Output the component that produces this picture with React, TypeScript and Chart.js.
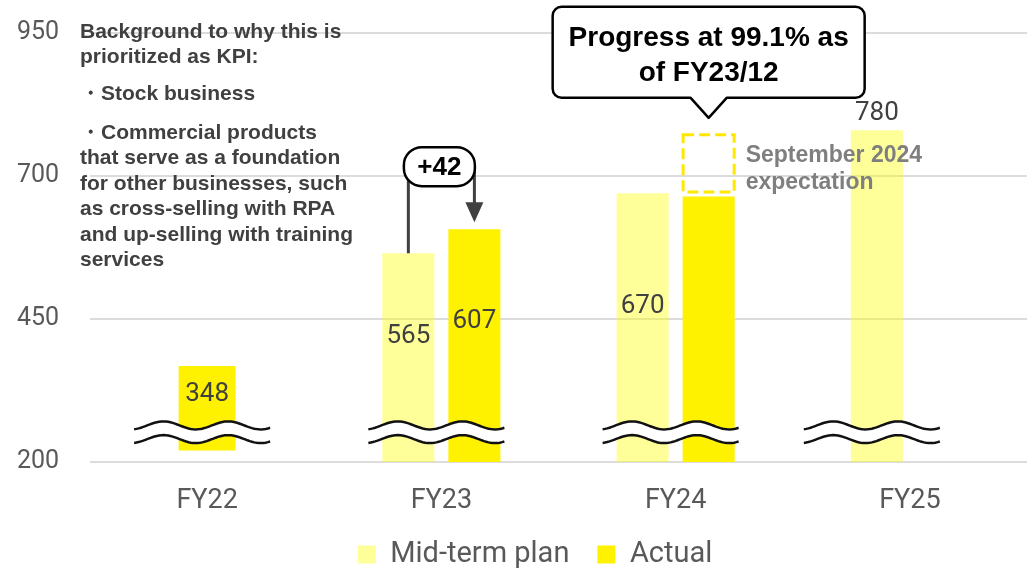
import { useEffect, useRef } from 'react';
import { Chart, registerables } from 'chart.js';

Chart.register(...registerables);

// ---- data ----
const categories = ['FY22', 'FY23', 'FY24', 'FY25'];
const midTermPlan: (number | null)[] = [null, 565, 670, 780];
const actual: (number | null)[] = [348, 607, 664, null];
// which actual values carry a printed label (FY24 is described by the callout instead)
const actualLabelShown = [true, true, false, false];
// FY22 actual bar as it is drawn across the broken axis (data units)
const fy22BrokenRange: [number, number] = [220, 368];
// September 2024 expectation range for FY24 (data units)
const expectationRange: [number, number] = [672, 772];
const yTicks = [200, 450, 700, 950];
// axis-break waves (data units)
const breakValues = [264, 240];

const kpiNoteLines = [
  'Background to why this is',
  'prioritized as KPI:',
  '・Stock business',
  '・Commercial products',
  'that serve as a foundation',
  'for other businesses, such',
  'as cross-selling with RPA',
  'and up-selling with training',
  'services',
];
const kpiNoteLineY = [32, 57, 94, 133, 158.5, 184, 209.5, 235, 260.5];
const calloutLines = ['Progress at 99.1% as', 'of FY23/12'];
const expectationLines = ['September 2024', 'expectation'];

const PLAN_COLOR = 'rgba(255,255,0,0.4)';
const ACTUAL_COLOR = '#FFF200';
const AXIS_TEXT = '#595959';
const LABEL_TEXT = '#404040';

const legendShiftPlugin = {
  id: 'legendShift',
  afterLayout(chart: any) {
    const lg = chart.legend;
    if (lg) {
      lg.left += 13;
      lg.right += 13;
    }
  },
};

const overlayPlugin = {
  id: 'overlay',
  afterDatasetsDraw(chart: any) {
    const ctx: CanvasRenderingContext2D = chart.ctx;
    const ys = chart.scales.y;
    const area = chart.chartArea;
    const planMeta = chart.getDatasetMeta(0);
    const actMeta = chart.getDatasetMeta(1);
    const fy22Meta = chart.getDatasetMeta(2);
    const datasets = chart.data.datasets;

    const waveTopY = ys.getPixelForValue(breakValues[0]);
    const waveBotY = ys.getPixelForValue(breakValues[1]);

    // ---- axis-break waves ----
    categories.forEach((_, i) => {
      const els: any[] = [];
      [planMeta, actMeta, fy22Meta].forEach((m, di) => {
        const v = datasets[di].data[i];
        if (v !== null && v !== undefined) els.push(m.data[i]);
      });
      if (!els.length) return;
      const left = Math.min(...els.map((e) => e.x - e.width / 2));
      const right = Math.max(...els.map((e) => e.x + e.width / 2));
      const cx = (left + right) / 2 - 5;
      const x0 = cx - 68;
      const x1 = cx + 68;
      const N = 60;
      const pts = (yc: number) => {
        const p: [number, number][] = [];
        for (let k = 0; k <= N; k++) {
          const t = k / N;
          p.push([x0 + t * (x1 - x0), yc + 4 * Math.cos(2 * Math.PI * 2.1 * t + 0.3)]);
        }
        return p;
      };
      const top = pts(waveTopY);
      const bot = pts(waveBotY);
      ctx.save();
      ctx.beginPath();
      top.forEach(([x, y], k) => (k ? ctx.lineTo(x, y) : ctx.moveTo(x, y)));
      for (let k = bot.length - 1; k >= 0; k--) ctx.lineTo(bot[k][0], bot[k][1]);
      ctx.closePath();
      ctx.fillStyle = '#ffffff';
      ctx.fill();
      ctx.strokeStyle = '#111111';
      ctx.lineWidth = 2.5;
      [top, bot].forEach((w) => {
        ctx.beginPath();
        w.forEach(([x, y], k) => (k ? ctx.lineTo(x, y) : ctx.moveTo(x, y)));
        ctx.stroke();
      });
      ctx.restore();
    });

    // ---- value labels ----
    ctx.save();
    ctx.font = '26px Roboto, "Noto Sans", sans-serif';
    ctx.fillStyle = LABEL_TEXT;
    ctx.textAlign = 'center';
    ctx.textBaseline = 'middle';
    const last = categories.length - 1;
    midTermPlan.forEach((v, i) => {
      if (v === null) return;
      const el = planMeta.data[i];
      const y = i === last ? el.y - 17 : (el.y + waveTopY) / 2 - 3;
      ctx.fillText(String(v), el.x, y);
    });
    actual.forEach((v, i) => {
      if (v === null || !actualLabelShown[i]) return;
      const el = i === 0 ? fy22Meta.data[i] : actMeta.data[i];
      ctx.fillText(String(v), el.x, (el.y + waveTopY) / 2 - (i === 0 ? 1 : 6));
    });
    ctx.restore();

    // ---- expectation dashed box + text ----
    const fy24 = actMeta.data[2];
    const eTop = ys.getPixelForValue(expectationRange[1]);
    const eBot = ys.getPixelForValue(expectationRange[0]);
    ctx.save();
    ctx.strokeStyle = '#FFE800';
    ctx.lineWidth = 3;
    ctx.setLineDash([11, 5]);
    ctx.strokeRect(fy24.x - fy24.width / 2 + 0.5, eTop, fy24.width - 1, eBot - eTop);
    ctx.setLineDash([]);
    ctx.font = 'bold 23px "Liberation Sans", Arial, sans-serif';
    ctx.fillStyle = '#7f7f7f';
    ctx.textAlign = 'left';
    ctx.textBaseline = 'middle';
    ctx.fillText(expectationLines[0], fy24.x + fy24.width / 2 + 11, eTop + 21);
    ctx.fillText(expectationLines[1], fy24.x + fy24.width / 2 + 11, eTop + 48);
    ctx.restore();

    // ---- speech-bubble callout ----
    const tipX = fy24.x;
    const tipY = eTop - 17;
    const bB = tipY - 20;
    const bT = bB - 91;
    const bL = tipX - 156;
    const bR = tipX + 156;
    const r = 9;
    ctx.save();
    ctx.beginPath();
    ctx.moveTo(bL + r, bT);
    ctx.lineTo(bR - r, bT);
    ctx.arcTo(bR, bT, bR, bT + r, r);
    ctx.lineTo(bR, bB - r);
    ctx.arcTo(bR, bB, bR - r, bB, r);
    ctx.lineTo(tipX + 18, bB);
    ctx.lineTo(tipX, tipY);
    ctx.lineTo(tipX - 18, bB);
    ctx.lineTo(bL + r, bB);
    ctx.arcTo(bL, bB, bL, bB - r, r);
    ctx.lineTo(bL, bT + r);
    ctx.arcTo(bL, bT, bL + r, bT, r);
    ctx.closePath();
    ctx.fillStyle = '#ffffff';
    ctx.fill();
    ctx.lineWidth = 2.5;
    ctx.lineJoin = 'round';
    ctx.strokeStyle = '#000000';
    ctx.stroke();
    ctx.font = 'bold 28px "Liberation Sans", Arial, sans-serif';
    ctx.fillStyle = '#000000';
    ctx.textAlign = 'center';
    ctx.textBaseline = 'middle';
    ctx.fillText(calloutLines[0], tipX, bT + 31);
    ctx.fillText(calloutLines[1], tipX, bT + 66);
    ctx.restore();

    // ---- +42 difference annotation ----
    const pEl = planMeta.data[1];
    const aEl = actMeta.data[1];
    const diff = (actual[1] as number) - (midTermPlan[1] as number);
    const pcx = (pEl.x + aEl.x) / 2 - 2;
    const pcy = aEl.y - 62.5;
    ctx.save();
    ctx.strokeStyle = '#404040';
    ctx.fillStyle = '#404040';
    ctx.lineWidth = 3;
    ctx.beginPath();
    ctx.moveTo(pEl.x, pcy);
    ctx.lineTo(pEl.x, pEl.y);
    ctx.moveTo(aEl.x, pcy);
    ctx.lineTo(aEl.x, aEl.y - 25);
    ctx.stroke();
    ctx.beginPath();
    ctx.moveTo(aEl.x - 9, aEl.y - 27);
    ctx.lineTo(aEl.x + 9, aEl.y - 27);
    ctx.lineTo(aEl.x, aEl.y - 7);
    ctx.closePath();
    ctx.fill();
    ctx.beginPath();
    (ctx as any).roundRect(pcx - 35.5, pcy - 19.5, 71, 39, 18);
    ctx.fillStyle = '#ffffff';
    ctx.fill();
    ctx.lineWidth = 2.5;
    ctx.strokeStyle = '#000000';
    ctx.stroke();
    ctx.font = 'bold 26px "Liberation Sans", Arial, sans-serif';
    ctx.fillStyle = '#000000';
    ctx.textAlign = 'center';
    ctx.textBaseline = 'middle';
    ctx.fillText((diff >= 0 ? '+' : '') + diff, pcx, pcy + 1);
    ctx.restore();

    // ---- KPI background note ----
    ctx.save();
    ctx.font = 'bold 21px "Liberation Sans", Arial, sans-serif';
    ctx.fillStyle = '#404040';
    ctx.textAlign = 'left';
    ctx.textBaseline = 'middle';
    kpiNoteLines.forEach((line, k) => {
      ctx.fillText(line, area.left - 10, area.top + (kpiNoteLineY[k] - 33));
    });
    ctx.restore();
  },
};

export default function App() {
  const ref = useRef<HTMLCanvasElement>(null);

  useEffect(() => {
    const canvas = ref.current!;
    const chart = new Chart(canvas, {
      type: 'bar',
      data: {
        labels: categories,
        datasets: [
          {
            label: 'Mid-term plan',
            data: midTermPlan,
            backgroundColor: PLAN_COLOR,
            borderWidth: 0,
            categoryPercentage: 0.564,
            barPercentage: 0.788,
          },
          {
            label: 'Actual',
            data: actual.map((v, i) => (i === 0 ? null : v)),
            backgroundColor: ACTUAL_COLOR,
            borderWidth: 0,
            categoryPercentage: 0.564,
            barPercentage: 0.788,
          },
          {
            label: 'Actual FY22',
            data: categories.map((_, i) => (i === 0 ? fy22BrokenRange : null)) as any,
            backgroundColor: ACTUAL_COLOR,
            borderWidth: 0,
            grouped: false,
            barPercentage: 1,
            maxBarThickness: 57,
          } as any,
        ],
      },
      options: {
        responsive: false,
        animation: false,
        devicePixelRatio: 1,
        layout: { padding: { top: 33, left: 17, right: 4, bottom: 0 } },
        plugins: {
          tooltip: { enabled: false },
          legend: {
            position: 'bottom',
            labels: {
              filter: (item: any) => item.datasetIndex < 2,
              boxWidth: 18,
              boxHeight: 18,
              padding: 28,
              color: AXIS_TEXT,
              font: { family: 'Roboto, "Noto Sans", sans-serif', size: 29 },
            },
          },
        },
        scales: {
          x: {
            grid: { display: false },
            border: { display: false },
            ticks: {
              color: AXIS_TEXT,
              padding: 15,
              font: { family: 'Roboto, "Noto Sans", sans-serif', size: 27 },
            },
            afterFit: (s: any) => {
              s.height = 50;
            },
          },
          y: {
            min: 200,
            max: 950,
            grid: { color: '#dcdcdc', lineWidth: 2, drawTicks: false },
            border: { display: false },
            ticks: {
              color: AXIS_TEXT,
              padding: 0,
              crossAlign: 'far',
              font: { family: 'Roboto, "Noto Sans", sans-serif', size: 25 },
            },
            afterBuildTicks: (s: any) => {
              s.ticks = yTicks.map((v) => ({ value: v }));
            },
            afterFit: (s: any) => {
              s.width = 73;
            },
          },
        },
      } as any,
      plugins: [overlayPlugin, legendShiftPlugin],
    });
    return () => chart.destroy();
  }, []);

  return (
    <div
      style={{
        position: 'fixed',
        left: 0,
        top: 0,
        width: 1031,
        height: 569,
        overflow: 'hidden',
        background: '#ffffff',
      }}
    >
      <canvas ref={ref} width={1031} height={579} style={{ display: 'block', width: 1031, height: 579 }} />
    </div>
  );
}
